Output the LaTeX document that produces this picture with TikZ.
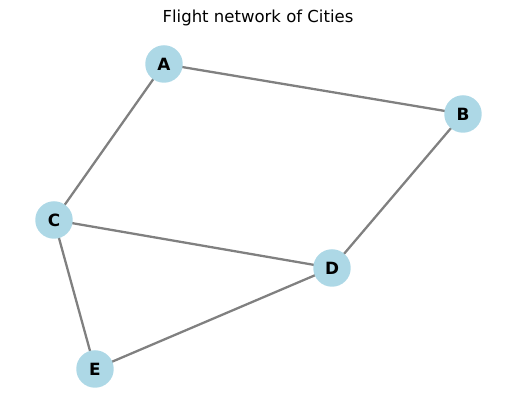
\documentclass[tikz,border=0pt]{standalone}
\usepackage{fontspec}
\setmainfont{DejaVu Sans}
\usetikzlibrary{positioning}
\definecolor{citynode}{RGB}{173,216,230}
\definecolor{flightedge}{RGB}{128,128,128}

\begin{document}
\begin{tikzpicture}[
    x=0.02cm, y=-0.02cm,
    city/.style={circle, fill=citynode, draw=none, minimum size=0.75cm, inner sep=0pt,
                 font=\fontsize{9.6}{11}\selectfont\bfseries},
    flight/.style={draw=flightedge, line width=1.3pt}
]
    \useasboundingbox (0,0) rectangle (515,411);
    \node[font=\fontsize{9.4}{11}\selectfont] (title) at (258,18) {Flight network of Cities};
    % flights
    \coordinate (a) at (164,64);
    \coordinate (b) at (463,114);
    \coordinate (c) at (54,220);
    \coordinate (d) at (332,268);
    \coordinate (e) at (95,369);
    \draw[flight] (a) -- (b);
    \draw[flight] (a) -- (c);
    \draw[flight] (b) -- (d);
    \draw[flight] (c) -- (d);
    \draw[flight] (c) -- (e);
    \draw[flight] (d) -- (e);
    % cities
    \node[city] (A) at (a) {A};
    \node[city] (B) at (b) {B};
    \node[city] (C) at (c) {C};
    \node[city] (D) at (d) {D};
    \node[city] (E) at (e) {E};
\end{tikzpicture}
\end{document}
